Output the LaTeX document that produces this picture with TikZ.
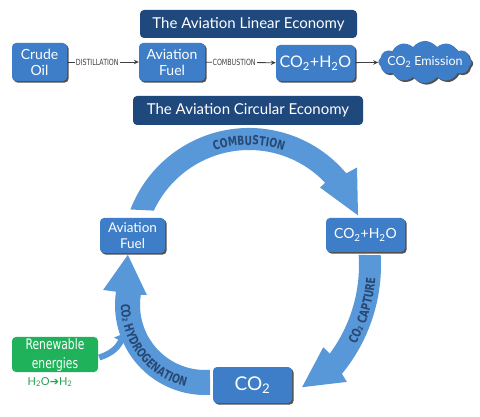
\documentclass[tikz,border=0pt]{standalone}
\usepackage{fontspec}
\setmainfont{Lato}
\newfontfamily\condfam[FakeStretch=0.74]{DejaVu Sans}
\newfontfamily\symfam{DejaVu Sans}
\usetikzlibrary{shapes.symbols,shadows,decorations.text,arrows.meta,calc}
\definecolor{boxblue}{RGB}{62,125,199}
\definecolor{ringblue}{RGB}{88,151,216}
\definecolor{titleblue}{RGB}{31,73,125}
\definecolor{labelblue}{RGB}{40,72,115}
\definecolor{rgreen}{RGB}{32,178,90}
\definecolor{hgreen}{RGB}{40,160,80}
\definecolor{linegray}{RGB}{64,64,64}
\newcommand\ringfnt{\condfam\bfseries\fontsize{12.5}{13}\selectfont}
\tikzset{
  bbox/.style={rectangle, rounded corners=4pt, fill=boxblue, text=white, align=center,
    inner sep=1pt, drop shadow={shadow xshift=1.6pt, shadow yshift=-1.6pt, fill=black!85, opacity=0.8},
    font=\fontsize{14}{16}\selectfont},
  titlebox/.style={rectangle, rounded corners=4pt, fill=titleblue, text=white, inner sep=1pt,
    font=\fontsize{15}{17}\selectfont},
  lbl/.style={fill=white, inner sep=1pt, text=linegray, font=\condfam\fontsize{8.5}{9}\selectfont},
  conn/.style={draw=linegray, line width=0.8pt, -{Stealth[length=5pt,width=4.5pt]}},
  ringtext/.style={decorate, decoration={text along path, text align=center, text color=labelblue}}
}
\begin{document}
\begin{tikzpicture}[x=1pt,y=-1pt]
\useasboundingbox (0,0) rectangle (480,417);
\fill[white] (0,0) rectangle (480,417);

% ---- linear economy ----
\node[titlebox, minimum width=217, minimum height=28] (t1) at (248.5,24) {The Aviation Linear Economy};
\node[bbox, minimum width=55, minimum height=38] (crude) at (39.5,62) {Crude\\Oil};
\node[bbox, minimum width=66, minimum height=38] (fuel1) at (172,62) {Aviation\\Fuel};
\node[bbox, minimum width=79, minimum height=36, font=\fontsize{16}{18}\selectfont] (wat1) at (315.5,63) {CO\textsubscript{2}+H\textsubscript{2}O};
\node[cloud, cloud puffs=12, cloud puff arc=110, aspect=3, fill=boxblue, text=white, inner sep=-5pt,
      minimum width=90, minimum height=31, font=\fontsize{12.5}{14}\selectfont,
      drop shadow={shadow xshift=1.6pt, shadow yshift=-1.6pt, fill=black!85, opacity=0.8}] (cloud) at (425,62) {CO\textsubscript{2} Emission};
\draw[conn] (crude) -- node[lbl, pos=0.42] {DISTILLATION} (fuel1);
\draw[conn] (fuel1) -- node[lbl, pos=0.41] {COMBUSTION} (wat1);
\draw[conn] (wat1) -- (cloud);

% ---- circular economy ----
\node[titlebox, minimum width=230, minimum height=29] (t2) at (248,110.5) {The Aviation Circular Economy};

\coordinate (C1) at (249,255);
\coordinate (C2) at (210,265);
\coordinate (C3) at (205,305);

% combustion arrow
\fill[ringblue] ($(C1)+(201:127)$) arc[start angle=201, end angle=320, radius=127]
  -- ($(C1)+(321:139)$) -- ($(C1)+(340:116)$) -- ($(C1)+(316.5:98)$)
  -- ($(C1)+(316.5:105)$) arc[start angle=316.5, end angle=205, radius=105] -- cycle;
\path[ringtext, decoration={text={|\ringfnt|COMBUSTION}}]
  ($(C1)+(240:110)$) arc[start angle=240, end angle=300, radius=110];

% capture arrow
\fill[ringblue] ($(C2)+(-3.35:171)$) arc[start angle=-3.35, end angle=39.5, radius=171]
  -- ($(C2)+(40.5:180)$) -- ($(C2)+(53:153)$) -- ($(C2)+(36:140)$)
  -- ($(C2)+(36.5:149)$) arc[start angle=36.5, end angle=-3.85, radius=149] -- cycle;
\path[ringtext, decoration={text={|\ringfnt|CO₂ CAPTURE}}]
  ($(C2)+(36:166)$) arc[start angle=36, end angle=-3, radius=166];

% hydrogenation arrow
\fill[ringblue] ($(C3)+(86.8:90)$) arc[start angle=86.8, end angle=188.5, radius=90]
  -- ($(C3)+(188.4:103)$) -- ($(C3)+(213:92)$) -- ($(C3)+(189.8:59)$)
  -- ($(C3)+(189:65)$) arc[start angle=189, end angle=85.6, radius=65] -- cycle;
\path[ringtext, decoration={text={|\ringfnt|CO₂ HYDROGENATION}}]
  ($(C3)+(196:84)$) arc[start angle=196, end angle=88, radius=84];

\node[bbox, minimum width=65, minimum height=35, font=\fontsize{13.5}{16}\selectfont] (fuel2) at (132.5,235.5) {Aviation\\Fuel};
\node[bbox, minimum width=79, minimum height=34, font=\fontsize{14}{16}\selectfont] (wat2) at (365.5,235) {CO\textsubscript{2}+H\textsubscript{2}O};
\node[bbox, minimum width=79, minimum height=36, font=\fontsize{19}{21}\selectfont] (co2) at (252.5,385) {CO\textsubscript{2}};

% renewable
\node[rectangle, rounded corners=4pt, fill=rgreen, text=white, align=center, inner sep=1pt,
      minimum width=86, minimum height=35, font=\condfam\fontsize{14.5}{19}\selectfont] (ren) at (55,354.5) {Renewable\\energies};
\node[text=hgreen, inner sep=0pt, font=\fontsize{11}{12}\selectfont] (h2) at (50,382) {H\textsubscript{2}O{\symfam ➔}H\textsubscript{2}};
\coordinate (hyd) at (125,333);
\draw[ringblue, line width=6pt, -{Triangle[length=9pt,width=15pt]}]
  ($(ren.east)+(1,3)$) .. controls (110,354) and (117,349) .. (hyd);
\end{tikzpicture}
\end{document}
